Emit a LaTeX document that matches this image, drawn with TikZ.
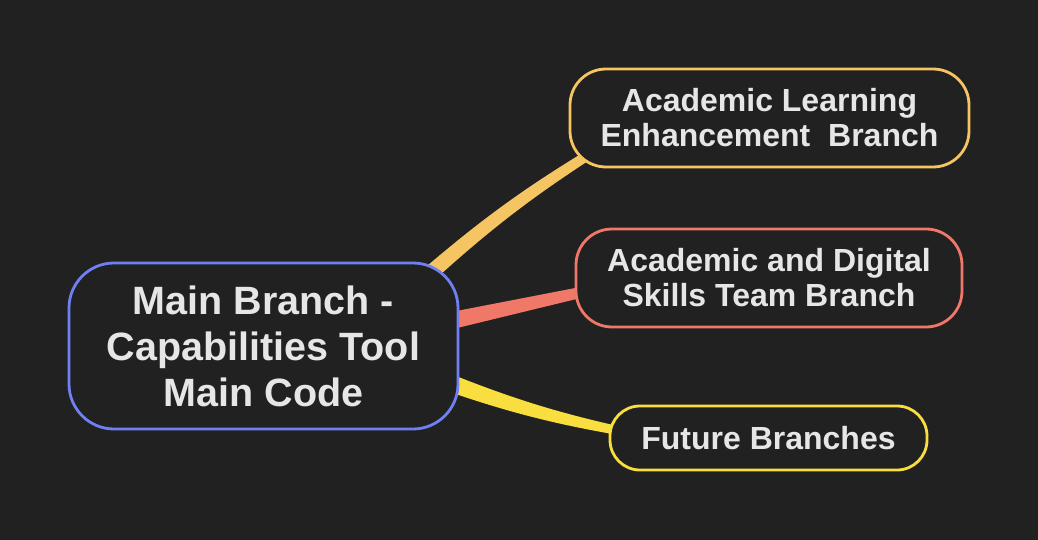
\documentclass[tikz,border=0pt]{standalone}
\usepackage{fontspec}
\setmainfont{Liberation Sans}
\usepackage{xcolor}
\usepackage{tikz}
\usetikzlibrary{positioning, calc}

\definecolor{bgdark}{HTML}{212121}
\definecolor{txtgrey}{HTML}{E6E6E6}
\definecolor{mainblue}{HTML}{7080F2}
\definecolor{learnorange}{HTML}{F6C563}
\definecolor{skillsred}{HTML}{F07868}
\definecolor{futureyellow}{HTML}{F8DE3E}

\pgfdeclarelayer{background}
\pgfsetlayers{background,main}

\tikzset{
  mapnode/.style={draw, line width=2.8pt, fill=bgdark, text=txtgrey, align=center, inner sep=0pt},
  rootfont/.style={font=\bfseries\fontsize{39.5}{46}\selectfont},
  leaffont/.style={font=\bfseries\fontsize{32}{35}\selectfont},
}

% tapered band: colour, from, to, half width at start, half width at end, bend
\newcommand{\branchband}[6]{%
  \fill[#1] ($(#2)!#4!90:(#3)$) to[bend left=#6] ($(#3)!#5!-90:(#2)$)
    -- ($(#3)!#5!90:(#2)$) to[bend right=#6] ($(#2)!#4!-90:(#3)$) -- cycle;}

\begin{document}
\begin{tikzpicture}[x=1pt, y=-1pt]
      \begin{pgfonlayer}{background}
        \fill[bgdark] (0,0) rectangle (1038,540);
      \end{pgfonlayer}

      \node[mapnode, rootfont, draw=mainblue, minimum width=389, minimum height=166, rounded corners=45] (main) at (263.5,346) {Main Branch -\\Capabilities Tool\\Main Code};

      \node[mapnode, leaffont, draw=learnorange, minimum width=399, minimum height=98, rounded corners=36] (learn) at (769.5,118) {Academic Learning\\Enhancement~ Branch};
      \node[mapnode, leaffont, draw=skillsred, minimum width=386, minimum height=98, rounded corners=36] (skills) at (769,278) {Academic and Digital\\Skills Team Branch};
      \node[mapnode, leaffont, draw=futureyellow, minimum width=317, minimum height=64, rounded corners=30] (future) at (768.5,438) {Future Branches};

      \coordinate (learnA) at ([shift={(-43,24)}]main.north east);
      \coordinate (learnB) at ([shift={(40,-26)}]learn.south west);
      \coordinate (skillsA) at ([shift={(-28,-21)}]main.east);
      \coordinate (skillsB) at ([shift={(31,9)}]skills.west);
      \coordinate (futureA) at ([shift={(-28,30)}]main.east);
      \coordinate (futureB) at ([shift={(32,-3)}]future.west);

      \begin{pgfonlayer}{background}
        \branchband{learnorange}{learnA}{learnB}{8pt}{4.5pt}{5}
        \branchband{skillsred}{skillsA}{skillsB}{9pt}{4.8pt}{0}
        \branchband{futureyellow}{futureA}{futureB}{9.2pt}{3.8pt}{-5}
      \end{pgfonlayer}
    \end{tikzpicture}
\end{document}
